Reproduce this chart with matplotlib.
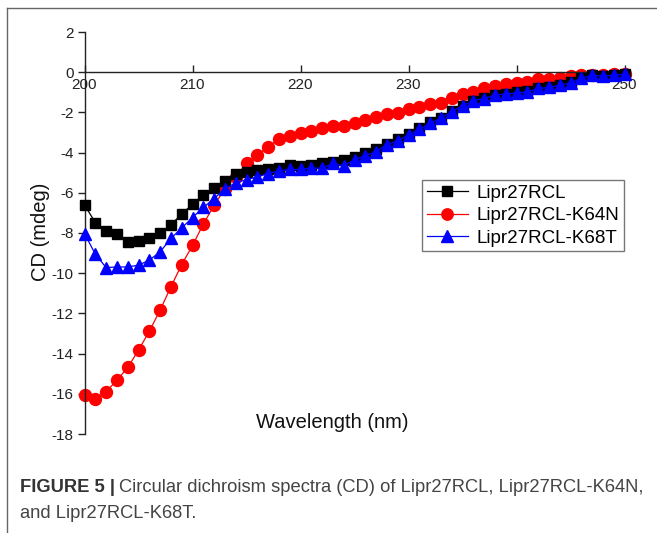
import numpy as np
import matplotlib
matplotlib.use("Agg")
import matplotlib.pyplot as plt
from matplotlib.lines import Line2D

plt.rcParams['font.family'] = ['Liberation Sans', 'DejaVu Sans']

wavelength = list(range(200, 251))

lipr27rcl = [-6.6, -7.48, -7.9, -8.05, -8.45, -8.4, -8.25, -8.0, -7.6, -7.05,
             -6.57, -6.12, -5.75, -5.39, -5.05, -4.96, -4.88, -4.8, -4.76, -4.64,
             -4.66, -4.62, -4.52, -4.45, -4.35, -4.2, -4.03, -3.82, -3.57, -3.33,
             -3.06, -2.8, -2.5, -2.27, -1.94, -1.68, -1.42, -1.28, -1.12, -1.06,
             -1.0, -0.95, -0.8, -0.74, -0.62, -0.5, -0.3, -0.15, -0.18, -0.14, -0.1]

lipr27rcl_k64n = [-16.07, -16.28, -15.9, -15.32, -14.69, -13.83, -12.89, -11.84, -10.68, -9.57,
                  -8.62, -7.56, -6.62, -5.79, -5.21, -4.54, -4.13, -3.71, -3.33, -3.17,
                  -3.02, -2.94, -2.80, -2.67, -2.67, -2.54, -2.4, -2.25, -2.09, -2.01,
                  -1.81, -1.72, -1.59, -1.51, -1.29, -1.09, -0.99, -0.81, -0.70, -0.6,
                  -0.53, -0.48, -0.36, -0.35, -0.28, -0.2, -0.15, -0.12, -0.12, -0.1, -0.07]

lipr27rcl_k68t = [-8.03, -9.05, -9.72, -9.69, -9.69, -9.6, -9.35, -8.94, -8.27, -7.75,
                  -7.23, -6.73, -6.29, -5.79, -5.51, -5.34, -5.21, -5.04, -4.91, -4.84,
                  -4.84, -4.76, -4.79, -4.54, -4.66, -4.35, -4.15, -3.95, -3.6, -3.42,
                  -3.12, -2.84, -2.55, -2.29, -1.96, -1.68, -1.41, -1.31, -1.14, -1.09,
                  -1.03, -0.98, -0.81, -0.76, -0.65, -0.53, -0.31, -0.15, -0.2, -0.15, -0.1]

series_names = ["Lipr27RCL", "Lipr27RCL-K64N", "Lipr27RCL-K68T"]
x_ticks = [200, 210, 220, 230, 240, 250]
y_ticks = [-18, -16, -14, -12, -10, -8, -6, -4, -2, 0, 2]

W, H = 657, 533
fig = plt.figure(figsize=(W / 100, H / 100), dpi=100)

# axes box in pixels
left_px, right_px, top_px, bottom_px = 84.5, 624.5, 32, 434
ax = fig.add_axes([left_px / W, 1 - bottom_px / H, (right_px - left_px) / W, (bottom_px - top_px) / H])

l1, = ax.plot(wavelength, lipr27rcl, color='black', marker='s', markersize=7.2, lw=0.9,
              label=series_names[0], zorder=3, clip_on=False)
l2, = ax.plot(wavelength, lipr27rcl_k64n, color='#ff0000', marker='o', markersize=8.6, lw=0.9,
              label=series_names[1], zorder=2, clip_on=False)
l3, = ax.plot(wavelength, lipr27rcl_k68t, color='#0000ff', marker='^', markersize=8.6, lw=0.9,
              label=series_names[2], zorder=4, clip_on=False)

ax.set_xlim(200, 250)
ax.set_ylim(-18, 2)
ax.set_xticks(x_ticks)
ax.set_yticks(y_ticks)
ax.set_yticklabels([str(v) for v in y_ticks])

for s in ['top', 'right']:
    ax.spines[s].set_visible(False)
ax.spines['bottom'].set_position(('data', 0))
ax.spines['bottom'].set_color('#222222')
ax.spines['left'].set_color('#222222')
ax.spines['bottom'].set_linewidth(1.0)
ax.spines['left'].set_linewidth(1.0)

ax.tick_params(axis='x', direction='in', length=5, width=1.0, pad=4, labelsize=11, colors='#222222')
ax.tick_params(axis='y', direction='out', length=5, width=1.0, pad=3, labelsize=11, colors='#222222')

leg = ax.legend(handles=[l1, l2, l3], loc='upper left',
                bbox_to_anchor=((422 - left_px) / (right_px - left_px), 1 - (180 - top_px) / (bottom_px - top_px)),
                fontsize=13.5, frameon=True, fancybox=False, shadow=False,
                handlelength=2.2, handletextpad=0.45, borderpad=0.25, labelspacing=0.28,
                borderaxespad=0, markerscale=0.95)
leg.get_frame().set_edgecolor('#555555')
leg.get_frame().set_linewidth(1.0)

fig.text(332 / W, 1 - 423 / H, "Wavelength (nm)", ha='center', va='center', fontsize=14.5, color='#111111')
fig.text(40 / W, 1 - 232 / H, "CD (mdeg)", ha='center', va='center', rotation=90, fontsize=14.5, color='#111111')

# outer frame (left and top)
fig.add_artist(Line2D([6.5 / W, 6.5 / W], [0, 1 - 8 / H], transform=fig.transFigure, color='#666666', lw=1.0))
fig.add_artist(Line2D([6.5 / W, 1], [1 - 8 / H, 1 - 8 / H], transform=fig.transFigure, color='#666666', lw=1.0))

# caption
cap_size = 13.2
renderer = fig.canvas.get_renderer()
t_bold = fig.text(20 / W, 1 - 488 / H, "FIGURE 5 |", ha='left', va='center', fontsize=cap_size,
                  fontweight='bold', color='#333333')
bb = t_bold.get_window_extent(renderer=renderer)
fig.text((bb.x1 + 4) / W, 1 - 488 / H, "Circular dichroism spectra (CD) of Lipr27RCL, Lipr27RCL-K64N,",
         ha='left', va='center', fontsize=cap_size, color='#444444')
fig.text(20 / W, 1 - 514 / H, "and Lipr27RCL-K68T.", ha='left', va='center', fontsize=cap_size, color='#444444')

fig.savefig("out.png", dpi=100)
